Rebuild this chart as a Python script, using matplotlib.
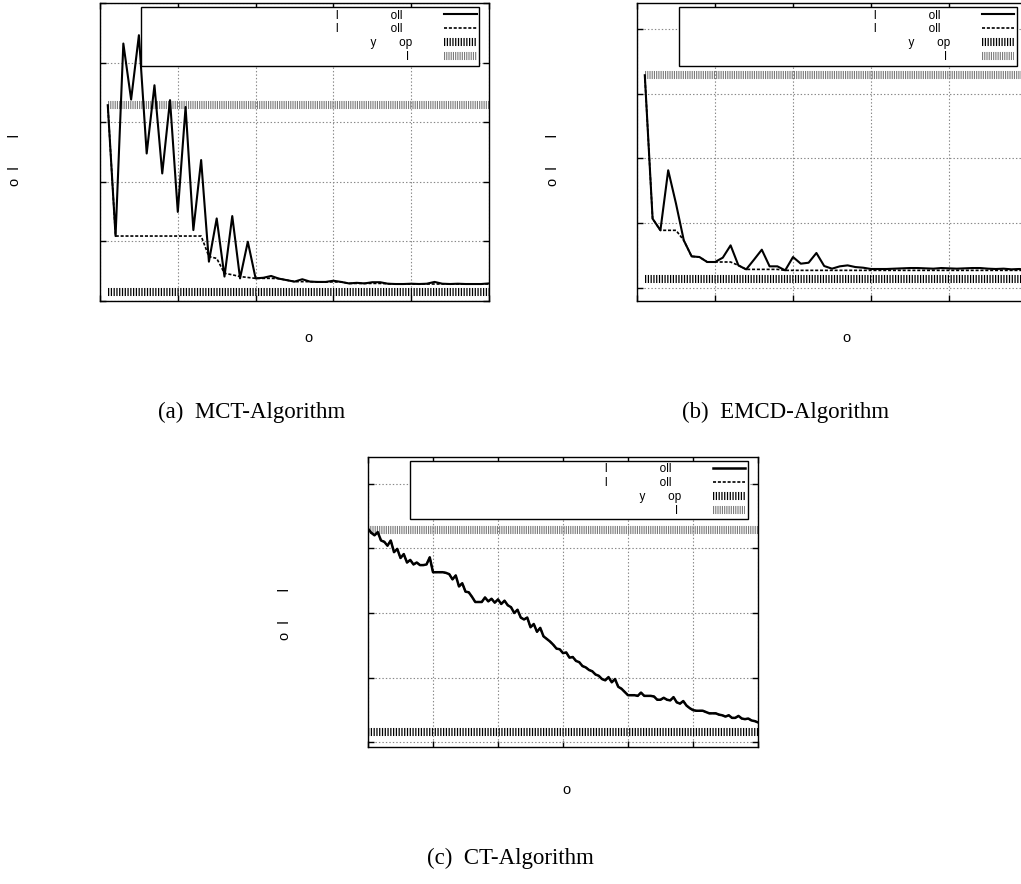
# Three convergence panels (a) MCT, (b) EMCD, (c) CT, laid out like the subfigures of a paper.

import numpy as np
import matplotlib
matplotlib.use('Agg')
import matplotlib.pyplot as plt

plt.rcParams['font.family'] = ['Liberation Sans', 'DejaVu Sans']
plt.rcParams['lines.scale_dashes'] = False

# legend texts (the glyphs that survive in the original)
legend_labels = [' ' * 52 + 'l' + ' ' * 16 + 'oll' + ' ' * 3,
                 ' ' * 52 + 'l' + ' ' * 16 + 'oll' + ' ' * 3,
                 ' ' * 70 + 'y' + ' ' * 7 + 'op',
                 ' ' * 81 + 'l' + ' ']
ylab = 'o  l       l'
xlab = 'o'
captions = ['(a)  MCT-Algorithm', '(b)  EMCD-Algorithm', '(c)  CT-Algorithm']

# (a) MCT
iter_a = np.arange(1, 51)
solid_a = [65.7, 21.8, 86.4, 67.6, 89.2, 49.5, 72.4, 42.8, 67.4, 29.9,
           65.1, 23.8, 47.3, 13.2, 27.7, 8.2, 28.5, 7.6, 19.9, 7.6,
           7.8, 8.4, 7.5, 7.0, 6.5, 7.3, 6.5, 6.4, 6.4, 6.8,
           6.4, 5.9, 6.1, 5.9, 6.3, 6.3, 5.8, 5.7, 5.7, 5.8,
           5.7, 5.8, 6.4, 5.8, 5.7, 5.8, 5.7, 5.7, 5.7, 5.9]
dashed_a = [65.7, 21.8, 21.8, 21.8, 21.8, 21.8, 21.8, 21.8, 21.8, 21.8,
            21.8, 21.8, 21.8, 14.9, 14.3, 9.3, 8.8, 8.2, 7.9, 7.6,
            7.6, 7.6, 7.5, 7.0, 6.5, 6.5, 6.5, 6.4, 6.4, 6.4,
            6.4, 5.9, 5.9, 5.9, 5.9, 5.9, 5.8, 5.7, 5.7, 5.7,
            5.7, 5.7, 5.7, 5.7, 5.7, 5.7, 5.7, 5.7, 5.7, 5.7]
upper_a, lower_a = 65.7, 2.9

# (b) EMCD
iter_b = np.arange(1, 51)
solid_b = [3.285, 1.071, 0.891, 1.818, 1.303, 0.736, 0.489, 0.479, 0.402, 0.402,
           0.469, 0.659, 0.350, 0.288, 0.438, 0.592, 0.335, 0.335, 0.273, 0.479,
           0.376, 0.391, 0.541, 0.340, 0.299, 0.335, 0.350, 0.324, 0.314, 0.294,
           0.294, 0.294, 0.299, 0.304, 0.309, 0.309, 0.304, 0.299, 0.309, 0.304,
           0.299, 0.304, 0.309, 0.309, 0.299, 0.294, 0.299, 0.289, 0.294, 0.283]
dashed_b = [3.285, 1.071, 0.891, 0.891, 0.891, 0.736, 0.489, 0.479, 0.402, 0.402,
            0.402, 0.402, 0.350, 0.288, 0.288, 0.288, 0.288, 0.288, 0.273, 0.273,
            0.273, 0.273, 0.273, 0.273, 0.273, 0.273, 0.273, 0.273, 0.273, 0.273,
            0.273, 0.273, 0.273, 0.273, 0.273, 0.273, 0.273, 0.273, 0.273, 0.273,
            0.273, 0.273, 0.273, 0.273, 0.273, 0.273, 0.273, 0.273, 0.273, 0.273]
upper_b, lower_b = 3.285, 0.144

# (c) CT
iter_c = np.arange(0, 601, 5)
solid_c = [3.30, 3.24, 3.20, 3.25, 3.12, 3.10, 3.04, 3.12, 2.94, 2.99,
           2.85, 2.91, 2.78, 2.82, 2.75, 2.78, 2.74, 2.74, 2.75, 2.86,
           2.63, 2.63, 2.63, 2.63, 2.62, 2.60, 2.52, 2.58, 2.41, 2.46,
           2.33, 2.32, 2.25, 2.17, 2.17, 2.17, 2.24, 2.18, 2.22, 2.16,
           2.21, 2.14, 2.19, 2.12, 2.09, 2.00, 2.05, 1.93, 1.90, 1.93,
           1.78, 1.83, 1.71, 1.77, 1.64, 1.60, 1.56, 1.51, 1.45, 1.44,
           1.38, 1.39, 1.31, 1.32, 1.26, 1.24, 1.18, 1.16, 1.12, 1.10,
           1.05, 1.03, 0.98, 0.96, 1.01, 0.93, 0.98, 0.86, 0.83, 0.78,
           0.73, 0.73, 0.73, 0.72, 0.77, 0.72, 0.72, 0.72, 0.71, 0.66,
           0.66, 0.69, 0.66, 0.65, 0.70, 0.62, 0.60, 0.64, 0.57, 0.53,
           0.50, 0.49, 0.49, 0.49, 0.47, 0.45, 0.45, 0.45, 0.43, 0.42,
           0.40, 0.42, 0.38, 0.38, 0.41, 0.37, 0.36, 0.37, 0.34, 0.33,
           0.31]
dashed_c = solid_c
upper_c, lower_c = 3.29, 0.155


def panel(ax, x, solid, dashed, upper, lower, xmax, xstep, ylim, yticks,
          ylab_xy, xlab_xy, lw=1.5):
    l1, = ax.plot(x, solid, color='black', lw=lw, zorder=4)
    l2, = ax.plot(x, dashed, color='black', lw=1.2, dashes=(2.2, 1.3), zorder=3)
    l3, = ax.plot([x[0], x[-1]], [lower, lower], color='black', lw=5.8,
                  dashes=(0.9, 1.1), zorder=2)
    l4, = ax.plot([x[0], x[-1]], [upper, upper], color='#7a7a7a', lw=5.8,
                  dashes=(0.8, 0.8), zorder=2)
    ax.set_xlim(0, xmax)
    ax.set_ylim(*ylim)
    ax.set_xticks(np.arange(0, xmax + 1, xstep))
    ax.set_yticks(yticks)
    ax.grid(True, linestyle=(0, (1, 1.5)), color='#888888', lw=0.8)
    ax.tick_params(direction='in', length=4, width=1, top=True, right=True,
                   labelbottom=False, labelleft=False)
    for s in ax.spines.values():
        s.set_linewidth(1.0)
    ax.set_ylabel(ylab, fontsize=10.5, rotation=90, va='center', ha='center')
    ax.yaxis.set_label_coords(*ylab_xy)
    ax.set_xlabel(xlab, fontsize=10.5, va='center', ha='center')
    ax.xaxis.set_label_coords(*xlab_xy)
    # markerfirst=False right-aligns each row against its handle
    leg = ax.legend([l1, l2, l3, l4], legend_labels, loc='upper right',
                    bbox_to_anchor=(0.974, 0.986), borderaxespad=0,
                    markerfirst=False, fancybox=False, framealpha=1,
                    edgecolor='black', fontsize=8.5, handlelength=2.75,
                    handletextpad=2.68, labelspacing=0.16, borderpad=0.2)
    leg.get_frame().set_linewidth(1.0)


fig = plt.figure(figsize=(10.21, 8.84), dpi=100)

ax_a = fig.add_axes([100 / 1021, 1 - 301 / 884, 389 / 1021, 298 / 884])
panel(ax_a, iter_a, solid_a, dashed_a, upper_a, lower_a, 50, 10,
      (0, 100), np.arange(0, 101, 20), (-0.2185, 0.473), (0.537, -0.124))

ax_b = fig.add_axes([637 / 1021, 1 - 301 / 884, 390 / 1021, 298 / 884])
panel(ax_b, iter_b, solid_b, dashed_b, upper_b, lower_b, 50, 10,
      (-0.2, 4.4), np.arange(0, 5), (-0.215, 0.473), (0.537, -0.124))

ax_c = fig.add_axes([368 / 1021, 1 - 747 / 884, 390 / 1021, 290 / 884])
panel(ax_c, iter_c, solid_c, dashed_c, upper_c, lower_c, 600, 100,
      (-0.07, 4.41), np.arange(0, 5), (-0.213, 0.459), (0.508, -0.148), lw=1.8)

cap_font = dict(family='Liberation Serif', fontsize=16.5, ha='center', va='center')
fig.text(251.5 / 1021, 1 - 412 / 884, captions[0], **cap_font)
fig.text(786 / 1021, 1 - 412 / 884, captions[1], **cap_font)
fig.text(510 / 1021, 1 - 858 / 884, captions[2], **cap_font)

fig.savefig('out.png', dpi=100)
